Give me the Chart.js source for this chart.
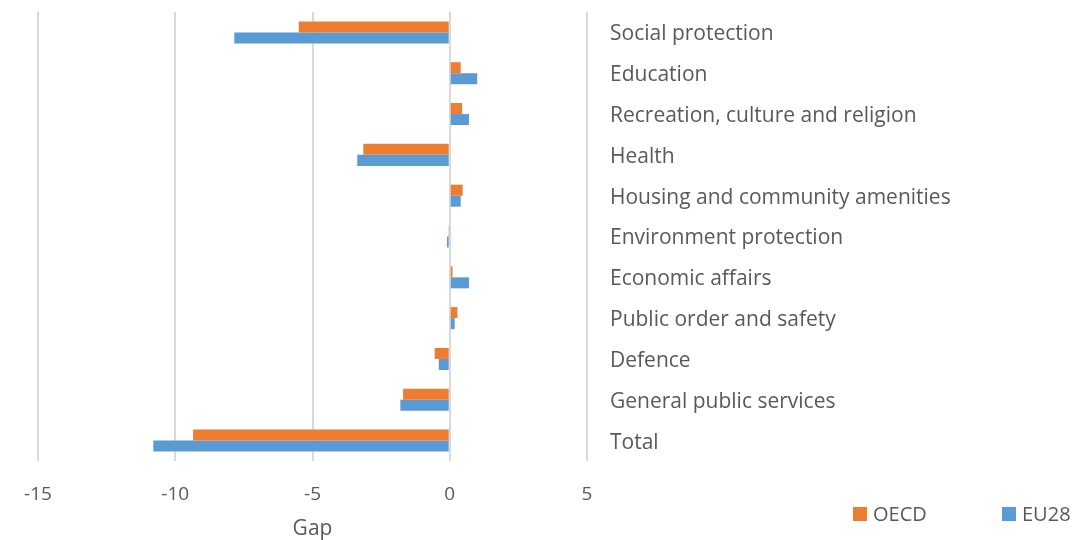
<!DOCTYPE html>
<html>
<head>
<meta charset="utf-8">
<script src="https://cdn.jsdelivr.net/npm/chart.js@4.4.1/dist/chart.umd.min.js"></script>
<style>
html,body{margin:0;padding:0;background:#fff;}
#wrap{width:1088px;height:540px;position:relative;}
</style>
</head>
<body>
<div id="wrap"><canvas id="c" width="1088" height="540"></canvas></div>
<script>
const categories = ["Social protection","Education","Recreation, culture and religion","Health","Housing and community amenities","Environment protection","Economic affairs","Public order and safety","Defence","General public services","Total"];
const oecdValues = [-5.5, 0.4, 0.45, -3.15, 0.47, -0.02, 0.1, 0.28, -0.55, -1.7, -9.35];
const eu28Values = [-7.85, 1.0, 0.7, -3.37, 0.4, -0.1, 0.7, 0.18, -0.4, -1.8, -10.8];
const xTicks = [-15, -10, -5, 0, 5];
const axisTitle = "Gap";

const FONT = "'Open Sans', sans-serif";
const TEXT = "#595959";

function zeroPad(scale) {
  scale.paddingTop = 0; scale.paddingBottom = 0;
  scale.paddingLeft = 0; scale.paddingRight = 0;
}

const legendPlugin = {
  id: 'customLegend',
  afterDraw(chart) {
    const ctx = chart.ctx;
    ctx.save();
    ctx.font = "20px " + FONT;
    ctx.textBaseline = 'middle';
    ctx.textAlign = 'left';
    const pos = [853, 1002];
    chart.data.datasets.forEach((ds, i) => {
      const x = pos[i], y = 514;
      ctx.fillStyle = ds.backgroundColor;
      ctx.fillRect(x, y - 7, 14, 14);
      ctx.fillStyle = TEXT;
      ctx.fillText(ds.label, x + 20, y + 1);
    });
    ctx.restore();
  }
};

new Chart(document.getElementById('c'), {
  type: 'bar',
  data: {
    labels: categories,
    datasets: [
      {label: 'OECD', data: oecdValues, backgroundColor: '#ED7D31', borderWidth: 0, categoryPercentage: 0.54, barPercentage: 1.0},
      {label: 'EU28', data: eu28Values, backgroundColor: '#5B9BD5', borderWidth: 0, categoryPercentage: 0.54, barPercentage: 1.0}
    ]
  },
  options: {
    indexAxis: 'y',
    responsive: false,
    animation: false,
    layout: {padding: {left: 38, top: 12, bottom: 0, right: 0}},
    plugins: {legend: {display: false}, tooltip: {enabled: false}},
    scales: {
      x: {
        min: -15, max: 5,
        afterBuildTicks(scale) { scale.ticks = xTicks.map(v => ({value: v})); },
        afterFit(scale) { zeroPad(scale); scale.height = 79; },
        grid: {color: '#d9d9d9', lineWidth: 2, drawTicks: false},
        border: {display: false},
        ticks: {color: TEXT, font: {family: FONT, size: 19}, padding: 22, maxRotation: 0},
        title: {display: true, text: axisTitle, color: TEXT, font: {family: FONT, size: 21}, padding: {top: 11, bottom: -2}}
      },
      y: {
        position: 'right',
        grid: {display: false, drawTicks: false},
        border: {display: false},
        ticks: {color: TEXT, font: {family: FONT, size: 21}, padding: 23, crossAlign: 'near', labelOffset: 2},
        afterFit(scale) { zeroPad(scale); scale.width = 501; }
      }
    }
  },
  plugins: [legendPlugin]
});
</script>
</body>
</html>
